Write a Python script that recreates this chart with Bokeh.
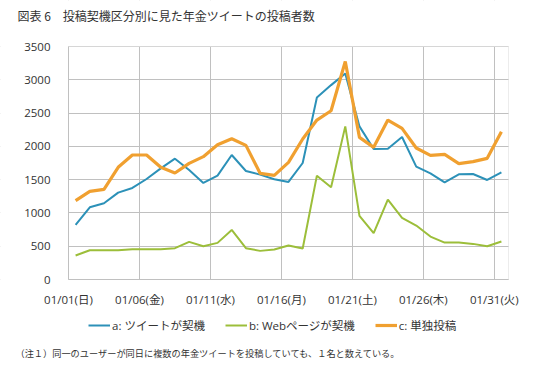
from bokeh.plotting import figure
from bokeh.models import (FixedTicker, Legend, LegendItem, Range1d,
                          BoxAnnotation, Label)
from bokeh.embed import file_html
from bokeh.resources import INLINE

days = list(range(1, 32))
tweet = [820, 1085, 1145, 1305, 1375, 1510, 1670, 1815, 1645, 1450,
         1560, 1870, 1630, 1575, 1505, 1465, 1750, 2735, 2920, 3095,
         2300, 1960, 1965, 2140, 1695, 1595, 1460, 1580, 1585, 1495, 1610]
web = [360, 440, 440, 440, 455, 455, 455, 470, 565, 500,
       550, 745, 470, 430, 450, 510, 465, 1560, 1385, 2300,
       955, 695, 1200, 925, 810, 645, 555, 555, 535, 500, 570]
solo = [1185, 1325, 1355, 1685, 1870, 1870, 1685, 1600, 1745, 1845,
        2025, 2115, 2015, 1595, 1565, 1760, 2110, 2395, 2535, 3275,
        2135, 1985, 2395, 2270, 1975, 1865, 1880, 1740, 1770, 1820, 2220]
tick_pos = [0.5, 5.5, 10.5, 15.5, 20.5, 25.5, 30.5]
tick_labels = ["01/01(日)", "01/06(金)", "01/11(水)", "01/16(月)",
               "01/21(土)", "01/26(木)", "01/31(火)"]
y_ticks = [0, 500, 1000, 1500, 2000, 2500, 3000, 3500]
series_names = ["a: ツイートが契機", "b: Webページが契機", "c: 単独投稿"]
title_text = "図表 6\u3000投稿契機区分別に見た年金ツイートの投稿者数"
note_text = "（注１）同一のユーザーが同日に複数の年金ツイートを投稿していても、１名と数えている。"

FONT = "'Open Sans', 'Noto Sans CJK JP'"
CJK = "Noto Sans CJK JP"
GRID = "#C0C0C0"
TXT = "#333333"

W, H = 550, 375
X0, X1 = 0.5, 31.5          # plot-area x extent (days)
Y_TOP = 3500
# layout: plot area spans pixels 68..508 horizontally, 46..279 vertically
PX_L, PX_R, PY_T, PY_B = 68, 508, 46, 279
xs = (X1 - X0) / (PX_R - PX_L)
ys = Y_TOP / (PY_B - PY_T)


def dx(px):
    return X0 + (px - PX_L) * xs


def dy(py):
    return (PY_B - py) * ys


p = figure(width=W, height=H, output_backend="svg", toolbar_location=None,
           x_range=Range1d(dx(0), dx(W)), y_range=Range1d(dy(H), dy(0)),
           min_border_left=0, min_border_right=0, min_border_top=0,
           min_border_bottom=0)
p.background_fill_color = "white"
p.border_fill_color = "white"
p.outline_line_color = None

p.xaxis.ticker = FixedTicker(ticks=tick_pos)
p.xaxis.major_label_overrides = {t: l for t, l in zip(tick_pos, tick_labels)}
p.xaxis.fixed_location = 0
p.xaxis.bounds = (X0, X1)
p.yaxis.ticker = FixedTicker(ticks=y_ticks)
p.yaxis.fixed_location = X0
p.yaxis.bounds = (0, Y_TOP)
for ax in (p.xaxis, p.yaxis):
    ax.major_tick_line_color = None
    ax.minor_tick_line_color = None
    ax.axis_line_color = GRID
    ax.major_label_text_font = FONT
    ax.major_label_text_font_size = "11.5px"
    ax.major_label_text_color = TXT
p.yaxis.major_label_standoff = 12
p.xaxis.major_label_standoff = 6
p.xgrid.grid_line_color = GRID
p.ygrid.grid_line_color = GRID

# hide grid lines outside the plot area, then draw the plot-area border
for kw in (dict(top=0), dict(bottom=Y_TOP), dict(right=X0), dict(left=X1)):
    p.add_layout(BoxAnnotation(fill_color="white", fill_alpha=1,
                               line_color=None, level="underlay", **kw))
p.add_layout(BoxAnnotation(left=X0, right=X1, bottom=0, top=Y_TOP,
                           fill_alpha=0, line_color=GRID, line_width=1,
                           level="underlay"))

r1 = p.line(days, tweet, line_color="#2C91B8", line_width=2)
r2 = p.line(days, web, line_color="#9CBE3A", line_width=2)
r3 = p.line(days, solo, line_color="#F0A030", line_width=3.2)

legend = Legend(items=[LegendItem(label=series_names[0], renderers=[r1]),
                       LegendItem(label=series_names[1], renderers=[r2]),
                       LegendItem(label=series_names[2], renderers=[r3])],
                orientation="horizontal", location=(88, 40),
                border_line_color=None, background_fill_alpha=0,
                label_text_font=FONT, label_text_font_size="11.5px",
                label_text_color=TXT, glyph_width=22, glyph_height=20,
                label_standoff=2, spacing=20, padding=0, margin=0)
p.add_layout(legend, "center")

p.add_layout(Label(x=dx(17), y=dy(15), text=title_text, text_font=CJK,
                   text_font_size="12px", text_color=TXT,
                   text_baseline="middle", text_align="left"))
p.add_layout(Label(x=dx(15), y=dy(352), text=note_text, text_font=CJK,
                   text_font_size="9.2px", text_color=TXT,
                   text_baseline="middle", text_align="left"))

open("out.html", "w").write(file_html(p, INLINE))
